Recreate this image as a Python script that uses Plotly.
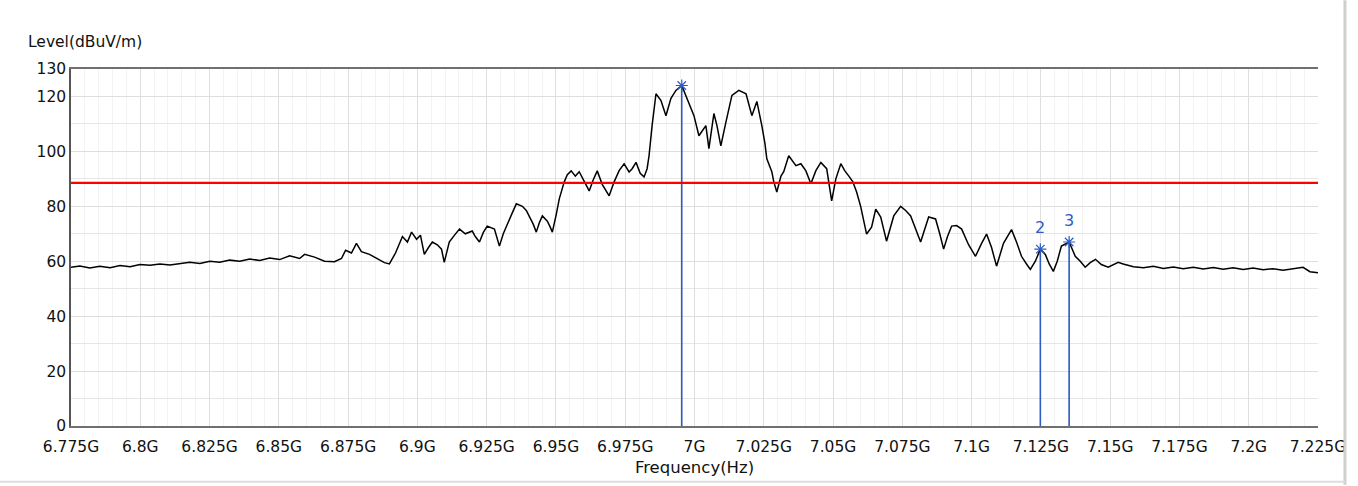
import plotly.graph_objects as go

# Frequency samples in MHz and level in dBuV/m
freq_mhz = [
    6775.0, 6778.2, 6781.8, 6785.4, 6789.1, 6792.7, 6796.3, 6799.9, 6803.5, 6807.1,
    6810.7, 6814.3, 6817.9, 6821.5, 6825.1, 6828.7, 6832.3, 6835.9, 6839.5, 6843.1,
    6846.7, 6850.3, 6853.9, 6857.5, 6859.3, 6862.9, 6866.5, 6870.1, 6872.6, 6874.1,
    6876.2, 6878.0, 6879.8, 6882.7, 6885.6, 6888.1, 6889.9, 6892.1, 6894.6, 6896.4,
    6897.9, 6899.7, 6901.1, 6902.5, 6904.0, 6905.4, 6907.2, 6908.7, 6909.7, 6911.5,
    6913.4, 6915.2, 6917.3, 6919.8, 6920.9, 6922.4, 6923.8, 6925.2, 6927.8, 6929.6,
    6931.0, 6932.4, 6934.2, 6935.7, 6937.9, 6939.3, 6940.4, 6941.8, 6942.9, 6944.0,
    6945.1, 6946.9, 6947.9, 6948.7, 6950.1, 6951.2, 6953.0, 6954.1, 6955.5, 6957.0,
    6958.4, 6960.2, 6962.0, 6963.4, 6964.9, 6966.7, 6969.2, 6971.0, 6972.8, 6974.6,
    6976.4, 6977.5, 6978.9, 6980.4, 6981.8, 6982.9, 6983.6, 6984.7, 6986.1, 6987.9,
    6989.7, 6991.5, 6993.3, 6995.4, 6997.4, 6999.8, 7001.6, 7003.1, 7004.1, 7005.2,
    7007.0, 7008.1, 7009.5, 7011.4, 7013.5, 7016.0, 7018.6, 7020.7, 7022.5, 7024.3,
    7025.4, 7026.1, 7027.9, 7028.6, 7029.7, 7031.2, 7032.2, 7034.0, 7036.6, 7038.4,
    7040.2, 7042.0, 7043.8, 7045.6, 7047.7, 7049.5, 7051.0, 7052.8, 7054.2, 7055.7,
    7057.1, 7058.5, 7060.0, 7062.1, 7063.9, 7065.4, 7067.2, 7069.3, 7071.9, 7074.4,
    7076.2, 7078.0, 7079.8, 7081.6, 7084.5, 7087.0, 7088.5, 7089.9, 7091.3, 7092.8,
    7094.6, 7096.4, 7098.9, 7101.4, 7103.6, 7105.4, 7107.2, 7109.0, 7111.5, 7114.4,
    7116.2, 7118.0, 7119.8, 7121.2, 7123.0, 7124.8, 7126.6, 7128.0, 7129.5, 7130.9,
    7132.4, 7135.2, 7137.4, 7139.2, 7141.0, 7142.8, 7144.7, 7146.8, 7149.3, 7151.1,
    7152.9, 7154.7, 7158.4, 7162.0, 7165.6, 7169.2, 7172.8, 7176.4, 7180.0, 7183.6,
    7187.2, 7190.8, 7194.4, 7198.0, 7201.6, 7205.2, 7208.8, 7212.4, 7216.0, 7219.6,
    7222.1, 7225.0,
]
level_dbuv = [
    57.8, 58.3, 57.5, 58.2, 57.6, 58.4, 58.0, 58.8, 58.5, 59.0,
    58.6, 59.2, 59.6, 59.2, 60.0, 59.6, 60.4, 60.0, 60.8, 60.3,
    61.2, 60.6, 62.0, 61.0, 62.5, 61.5, 60.0, 59.8, 61.0, 64.0,
    63.0, 66.5, 63.5, 62.5, 61.0, 59.5, 59.0, 63.0, 69.0, 67.0,
    70.6, 68.0, 69.5, 62.5, 65.0, 67.0, 66.0, 64.4, 59.6, 67.0,
    69.5, 71.7, 70.0, 71.0, 69.0, 67.0, 70.5, 72.8, 71.7, 65.5,
    70.0, 73.5, 77.5, 80.9, 80.0, 78.5, 76.5, 73.5, 70.6, 74.0,
    76.5, 74.6, 72.5, 70.6, 77.0, 82.7, 88.9, 91.5, 92.9, 91.0,
    92.6, 89.0, 85.6, 89.5, 92.9, 88.0, 83.8, 88.9, 93.0, 95.5,
    92.5, 93.7, 96.0, 92.0, 90.7, 93.7, 98.4, 109.4, 121.0, 118.5,
    113.0, 119.3, 122.2, 124.0, 119.3, 113.0, 105.7, 108.0, 109.4, 101.0,
    113.8, 109.4, 102.0, 110.9, 120.4, 122.2, 121.0, 113.0, 118.2, 109.4,
    103.0, 97.3, 92.6, 89.0, 85.2, 91.0, 92.6, 98.4, 94.8, 95.5,
    92.9, 88.2, 93.0, 96.0, 93.7, 82.0, 90.0, 95.5, 93.0, 91.0,
    89.0, 85.2, 79.8, 69.9, 72.4, 79.0, 76.1, 67.3, 76.5, 80.0,
    78.5, 76.5, 72.0, 67.0, 76.1, 75.4, 70.0, 64.4, 69.0, 72.8,
    73.0, 71.7, 66.0, 61.8, 66.5, 69.9, 65.0, 58.2, 66.5, 71.5,
    67.0, 61.8, 59.0, 57.0, 60.0, 64.4, 62.5, 59.0, 56.3, 60.0,
    65.5, 67.0, 61.8, 60.0, 57.8, 59.5, 60.7, 58.8, 57.8, 58.6,
    59.6, 59.0, 58.0, 57.6, 58.2, 57.4, 57.9, 57.3, 57.8, 57.2,
    57.7, 57.1, 57.6, 57.0, 57.5, 56.9, 57.3, 56.7, 57.2, 57.8,
    56.2, 55.8,
]

limit_level = 88.5

marker_ids = ["1", "2", "3"]
marker_freq_mhz = [6995.4, 7124.8, 7135.2]
marker_level = [124.0, 64.4, 67.0]
marker_show_label = [False, True, True]

x_tick_mhz = [6775, 6800, 6825, 6850, 6875, 6900, 6925, 6950, 6975, 7000,
              7025, 7050, 7075, 7100, 7125, 7150, 7175, 7200, 7225]
x_tick_text = ["6.775G", "6.8G", "6.825G", "6.85G", "6.875G", "6.9G", "6.925G",
               "6.95G", "6.975G", "7G", "7.025G", "7.05G", "7.075G", "7.1G",
               "7.125G", "7.15G", "7.175G", "7.2G", "7.225G"]
y_tick_vals = [0, 20, 40, 60, 80, 100, 120, 130]

x_hz = [f * 1e6 for f in freq_mhz]
mk_hz = [f * 1e6 for f in marker_freq_mhz]

FONT = "DejaVu Sans"
BLUE = "#2d5cc4"

fig = go.Figure()

# marker stems
for fx, lv in zip(mk_hz, marker_level):
    fig.add_trace(go.Scatter(x=[fx, fx], y=[0, lv], mode="lines",
                             line=dict(color=BLUE, width=1.6),
                             hoverinfo="skip", showlegend=False))

fig.add_trace(go.Scatter(x=x_hz, y=level_dbuv, mode="lines",
                         line=dict(color="black", width=1.5),
                         showlegend=False, name="Level"))

fig.add_trace(go.Scatter(x=[x_hz[0], x_hz[-1]], y=[limit_level, limit_level],
                         mode="lines", line=dict(color="#ff0000", width=2.2),
                         showlegend=False, name="Limit"))

fig.add_trace(go.Scatter(x=mk_hz, y=marker_level, mode="markers",
                         marker=dict(symbol="asterisk-open", size=10, color=BLUE,
                                     line=dict(color=BLUE, width=1.2)),
                         showlegend=False, name="Markers"))

for mid, fx, lv, show in zip(marker_ids, mk_hz, marker_level, marker_show_label):
    if show:
        fig.add_annotation(x=fx, y=lv, text=mid, showarrow=False,
                           yshift=22, font=dict(family=FONT, size=16, color=BLUE))

fig.add_annotation(xref="paper", yref="paper", x=-0.036, y=1.075,
                   xanchor="left", yanchor="middle", text="Level(dBuV/m)",
                   showarrow=False, font=dict(family=FONT, size=15.5, color="#111"))

# outer window border (right and bottom edges)
fig.add_shape(type="line", xref="paper", yref="paper",
              x0=(1347 - 71) / 1249, x1=(1347 - 71) / 1249,
              y0=(427 - 486) / 358, y1=(427 - 0) / 358,
              line=dict(color="#cfcfcf", width=3))
fig.add_shape(type="line", xref="paper", yref="paper",
              x0=-71 / 1249, x1=(1347 - 71) / 1249,
              y0=(427 - 483) / 358, y1=(427 - 483) / 358,
              line=dict(color="#dddddd", width=2))

fig.update_layout(
    width=1358, height=486,
    margin=dict(l=71, r=38, t=69, b=59),
    paper_bgcolor="white", plot_bgcolor="white",
    font=dict(family=FONT, size=15, color="#111"),
    xaxis=dict(
        range=[6775e6, 7225e6], tickvals=[t * 1e6 for t in x_tick_mhz],
        ticktext=x_tick_text, ticks="", showgrid=True, gridcolor="#dedede",
        gridwidth=1, zeroline=False, showline=True, linecolor="#707070",
        linewidth=1.5, mirror=True, ticklabelstandoff=6,
        minor=dict(dtick=5e6, showgrid=True, gridcolor="#f3f3f3", gridwidth=1),
        title=dict(text="Frequency(Hz)", standoff=6,
                   font=dict(family=FONT, size=16.5, color="#111")),
        tickfont=dict(family=FONT, size=15.5, color="#111"),
    ),
    yaxis=dict(
        range=[0, 130], tickvals=y_tick_vals, ticks="", showgrid=True,
        gridcolor="#dedede", gridwidth=1, zeroline=False, showline=True,
        linecolor="#555555", linewidth=1.5,
        minor=dict(dtick=10, showgrid=True, gridcolor="#e6e6e6", gridwidth=1),
        tickfont=dict(family=FONT, size=15.5, color="#111"),
    ),
)

fig.write_html("out.html")
